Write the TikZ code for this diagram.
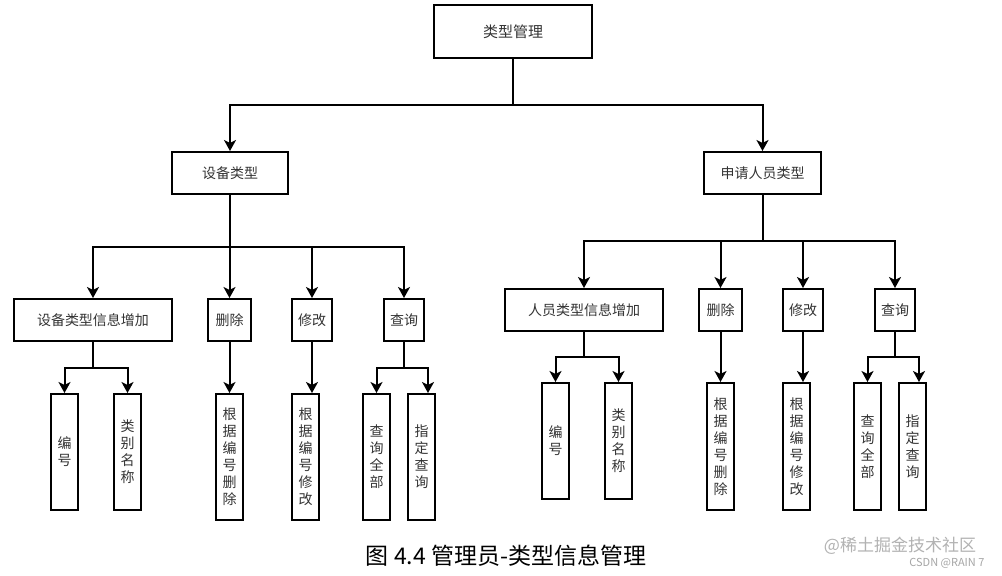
\documentclass[tikz,border=0pt]{standalone}
\usepackage{fontspec}
\setmainfont{Noto Sans CJK SC}
\usepackage{tikz}
\usetikzlibrary{arrows.meta}
\usetikzlibrary{positioning}
\definecolor{ink}{HTML}{333333}
\tikzstyle{block}=[draw,line width=2pt,minimum height=42pt,inner sep=0pt,text=ink,font=\fontsize{14}{17}\selectfont]
\tikzstyle{vblock}=[draw,line width=2pt,minimum width=27pt,inner sep=0pt,align=center,text=ink,font=\fontsize{14}{17}\selectfont]
\tikzstyle{link}=[line width=2pt,-{Stealth[length=11pt,width=12pt,inset=3pt]}]

\begin{document}
\begin{tikzpicture}[x=1pt,y=-1pt]
\useasboundingbox[fill=white] (0,0) rectangle (1002,576);
    % top levels
    \node [block,minimum width=158pt,minimum height=53pt,font=\fontsize{15}{18}\selectfont] (root) at (513,31.5) {类型管理};
    \node [block,minimum width=116pt] (dev) at (230,173) {设备类型};
    \node [block,minimum width=117pt] (app) at (762.5,173) {申请人员类型};
    % left branch
    \node [block,minimum width=158pt] (addA) at (93,320) {设备类型信息增加};
    \node [block,minimum width=43pt] (delA) at (229.5,320) {删除};
    \node [block,minimum width=40pt] (modA) at (312,320) {修改};
    \node [block,minimum width=40pt] (qryA) at (404,320) {查询};
    \node [vblock,minimum height=116pt] (noA) at (64.5,452) {编\\号};
    \node [vblock,minimum height=116pt] (nameA) at (127.5,452) {类\\别\\名\\称};
    \node [vblock,minimum height=126pt] (bydelA) at (229.5,457) {根\\据\\编\\号\\删\\除};
    \node [vblock,minimum height=126pt] (bymodA) at (305.5,457) {根\\据\\编\\号\\修\\改};
    \node [vblock,minimum height=126pt] (allA) at (376.5,457) {查\\询\\全\\部};
    \node [vblock,minimum height=126pt] (specA) at (421.5,457) {指\\定\\查\\询};
    % right branch
    \node [block,minimum width=158pt] (addB) at (584,310) {人员类型信息增加};
    \node [block,minimum width=43pt] (delB) at (720.5,310) {删除};
    \node [block,minimum width=40pt] (modB) at (803,310) {修改};
    \node [block,minimum width=40pt] (qryB) at (895,310) {查询};
    \node [vblock,minimum height=116pt] (noB) at (555.5,441) {编\\号};
    \node [vblock,minimum height=116pt] (nameB) at (618.5,441) {类\\别\\名\\称};
    \node [vblock,minimum height=127pt] (bydelB) at (720.5,446.5) {根\\据\\编\\号\\删\\除};
    \node [vblock,minimum height=127pt] (bymodB) at (796.5,446.5) {根\\据\\编\\号\\修\\改};
    \node [vblock,minimum height=127pt] (allB) at (867.5,446.5) {查\\询\\全\\部};
    \node [vblock,minimum height=127pt] (specB) at (912.5,446.5) {指\\定\\查\\询};

    \coordinate (j0) at (513,105);
    \coordinate (jA) at (230,247);
    \coordinate (jB) at (762.5,241);
    \coordinate (jA1) at (93,368);
    \coordinate (jA4) at (404,368);
    \coordinate (jB1) at (584,357);
    \coordinate (jB4) at (895,357);

    \draw [line width=2pt] (root.south) -- (j0);
    \draw [link] (j0) -| (dev.north);
    \draw [link] (j0) -| (app.north);
    \draw [line width=2pt] (dev.south) -- (jA);
    \draw [line width=2pt] (app.south) -- (jB);
    \foreach \c in {addA,delA,modA,qryA} \draw [link] (jA) -| (\c.north);
    \foreach \c in {addB,delB,modB,qryB} \draw [link] (jB) -| (\c.north);

    \draw [line width=2pt] (addA.south) -- (jA1);
    \draw [link] (jA1) -| (noA.north);
    \draw [link] (jA1) -| (nameA.north);
    \draw [link] (delA.south) -- (bydelA.north);
    \draw [link] (modA.south) -- (modA.south |- bymodA.north);
    \draw [line width=2pt] (qryA.south) -- (jA4);
    \draw [link] (jA4) -| (allA.north);
    \draw [link] (jA4) -| ([xshift=6.5pt]specA.north);

    \draw [line width=2pt] (addB.south) -- (jB1);
    \draw [link] (jB1) -| (noB.north);
    \draw [link] (jB1) -| (nameB.north);
    \draw [link] (delB.south) -- (bydelB.north);
    \draw [link] (modB.south) -- (modB.south |- bymodB.north);
    \draw [line width=2pt] (qryB.south) -- (jB4);
    \draw [link] (jB4) -| (allB.north);
    \draw [link] (jB4) -| ([xshift=6.5pt]specB.north);

\node [font=\fontsize{23}{26}\selectfont] (cap) at (506,556) {图 4.4 管理员-类型信息管理};
\node [font=\fontsize{17}{19}\selectfont,text=black!30] (wm) at (900,546) {@稀土掘金技术社区};
\node [font=\fontsize{11}{12}\selectfont,text=black!35,anchor=east] (csdn) at (988,563) {CSDN @RAIN 7};
\end{tikzpicture}
\end{document}
